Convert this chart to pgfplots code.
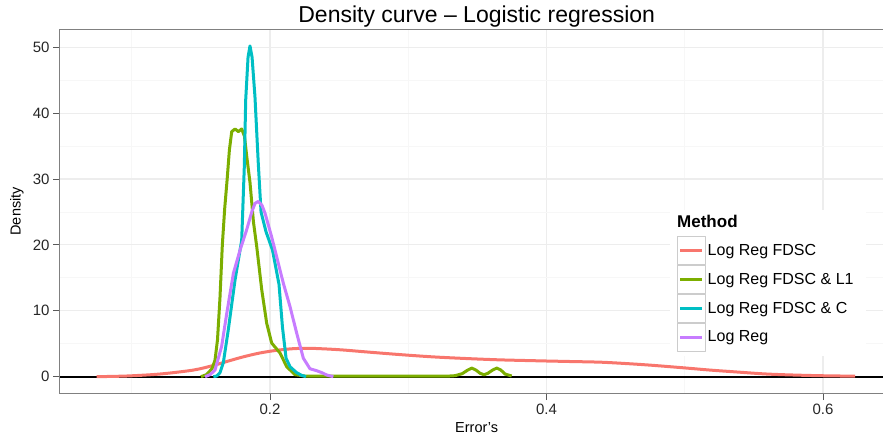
\documentclass[border=0pt]{standalone}
\usepackage{pgfplots}
\pgfplotsset{compat=1.18}
\usepackage{fontspec}
\setmainfont{Liberation Sans}
\definecolor{cR}{HTML}{F8766D}
\definecolor{cG}{HTML}{7CAE00}
\definecolor{cC}{HTML}{00BFC4}
\definecolor{cP}{HTML}{C77CFF}
\begin{document}
\begin{tikzpicture}
\begin{axis}[
  at={(0pt,0pt)}, anchor=south west,
  scale only axis, width=833.6pt, height=363.8pt,
  xmin=0.048, xmax=0.651, ymin=-2.51, ymax=52.71,
  xtick={0.2,0.4,0.6}, ytick={0,10,20,30,40,50},
  minor xtick={0.1,0.3,0.5}, minor ytick={5,15,25,35,45},
  grid=both,
  major grid style={black!7, line width=1.2pt},
  minor grid style={black!3, line width=0.9pt},
  tick pos=left, tick align=outside,
  major tick length=6.8pt, minor tick length=0pt,
  tick style={black!65, line width=0.9pt},
  axis line style={black!50, line width=0.9pt},
  ticklabel style={font=\fontsize{15}{15}\selectfont, text=black!85},
  /pgf/number format/assume math mode=true,
  xticklabel style={/pgf/number format/fixed, /pgf/number format/precision=1, /pgf/number format/fixed zerofill},
  title={Density curve – Logistic regression},
  title style={font=\fontsize{23}{23}\selectfont, at={(axis description cs:0.5,1.002)}, anchor=base, inner sep=0pt},
  xlabel={Error's},
  every axis x label/.style={at={(axis description cs:0.5,-0.0957)}, anchor=center, font=\fontsize{14.5}{14.5}\selectfont},
  ylabel={Density},
  every axis y label/.style={at={(axis description cs:-0.0515,0.5)}, anchor=center, rotate=90, font=\fontsize{14.5}{14.5}\selectfont},
  legend cell align=left,
  legend style={fill=none, draw=none, at={(axis description cs:0.7397,0.4335)}, anchor=north west,
    inner xsep=0pt, inner ysep=0pt, row sep=0pt,
    font=\fontsize{16}{16}\selectfont,
    /tikz/every even column/.append style={column sep=4pt}},
  legend image code/.code={
    \draw[black!20, line width=1pt, fill=white, solid] (0pt,-14pt) rectangle (28pt,14pt);
    \draw[#1, solid] (3pt,0pt) -- (25pt,0pt);
  },
]
\addplot[black, line width=1.8pt, forget plot] coordinates {(0.048,0) (0.651,0)};

% Log Reg FDSC
\addplot[cR, line width=3pt, line join=round, smooth] table {
0.0746 0.0
0.0963 0.1
0.1204 0.4
0.1445 1.0
0.1590 1.7
0.1687 2.3
0.1805 3.0
0.1928 3.6
0.2048 4.0
0.2169 4.25
0.2289 4.3
0.2410 4.2
0.2528 4.05
0.2700 3.75
0.2940 3.35
0.3181 3.0
0.3423 2.75
0.3664 2.55
0.3953 2.4
0.4170 2.3
0.4387 2.2
0.4568 2.0
0.4749 1.75
0.4987 1.35
0.5183 1.0
0.5349 0.75
0.5593 0.4
0.5834 0.22
0.6051 0.12
0.6232 0.08
};
\addlegendentry{Log Reg FDSC}

% Log Reg FDSC & L1
\addplot[cG, line width=3pt, line join=round] table {
0.1500 0.0
0.1540 0.3
0.1580 1.2
0.1602 2.5
0.1620 5.6
0.1638 12
0.1655 20
0.1672 25.5
0.1690 30
0.1706 34.4
0.1723 37.2
0.1747 37.6
0.1771 37.2
0.1795 37.6
0.1815 36.5
0.1834 33
0.1855 29.5
0.1880 23.5
0.1904 19.7
0.1940 13.2
0.1976 8.1
0.2012 5.1
0.2072 3.6
0.2121 1.5
0.2181 0.3
0.2250 0.1
0.3300 0.1
0.3338 0.15
0.3390 0.45
0.3430 1.0
0.3459 1.3
0.3490 1.0
0.3520 0.5
0.3548 0.3
0.3575 0.5
0.3610 1.0
0.3640 1.3
0.3670 1.0
0.3700 0.4
0.3748 0.1
};
\addlegendentry{Log Reg FDSC \& L1}

% Log Reg FDSC & C
\addplot[cC, line width=3pt, line join=round] table {
0.1590 0.0
0.1614 0.1
0.1638 0.6
0.1662 2.1
0.1698 7.1
0.1747 14.7
0.1795 20.7
0.1814 31.9
0.1824 42
0.1841 48.5
0.1855 50.2
0.1870 48.5
0.1891 42.5
0.1915 32.4
0.1935 25
0.1971 22
0.2018 19.2
0.2065 14
0.2090 7.5
0.2116 2.8
0.2145 1.5
0.2193 0.6
0.2229 0.2
0.2260 0.0
};
\addlegendentry{Log Reg FDSC \& C}

% Log Reg
\addplot[cP, line width=3pt, line join=round] table {
0.1530 0.0
0.1566 0.3
0.1602 1.0
0.1650 4.6
0.1687 9.6
0.1735 15.7
0.1783 19.2
0.1831 22.3
0.1868 25.0
0.1891 26.3
0.1915 26.6
0.1942 26.0
0.1964 24.8
0.2012 21.2
0.2048 18.2
0.2096 14.2
0.2145 10.6
0.2193 6.6
0.2241 2.8
0.2289 1.2
0.2338 0.9
0.2376 0.6
0.2410 0.25
0.2458 0.0
};
\addlegendentry{Log Reg}

% legend background and title
\fill[white] (axis description cs:0.7319,0.5036) rectangle (axis description cs:0.967,0.1022);
\node[anchor=base west, inner sep=0pt, font=\fontsize{17}{17}\selectfont\bfseries]
  at (axis description cs:0.7403,0.4541) {Method};
\end{axis}
\pgfresetboundingbox
\useasboundingbox (-59.9pt,-45.8pt) rectangle (823.1pt,393.2pt);
\end{tikzpicture}
\end{document}
